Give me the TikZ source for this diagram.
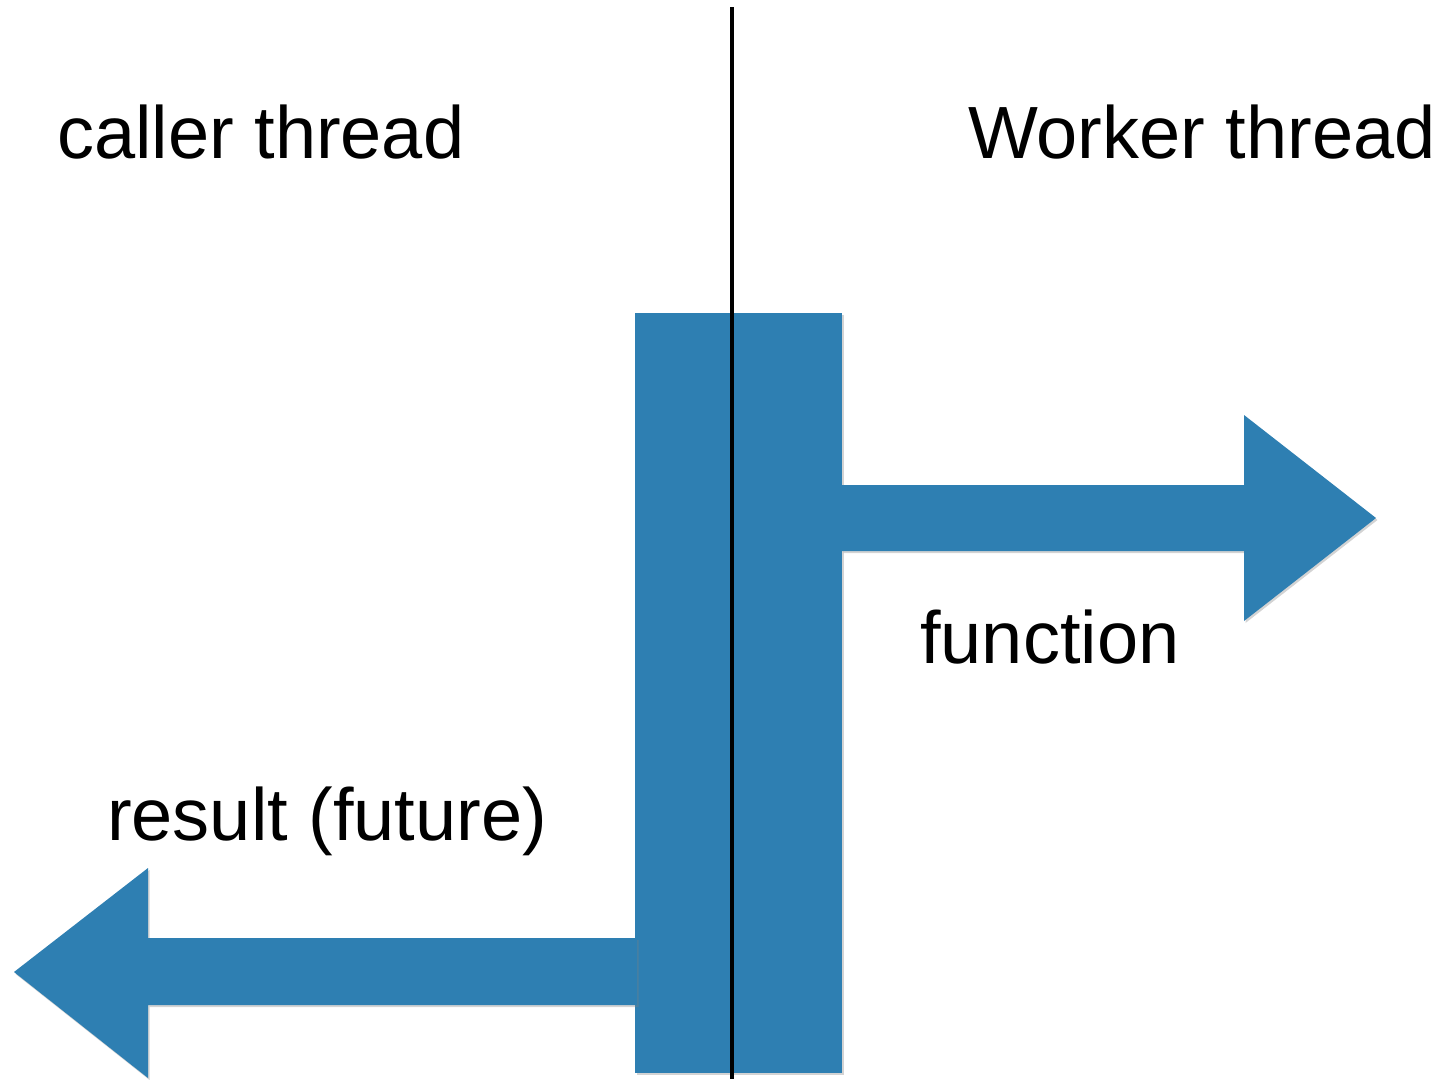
\documentclass[tikz,border=0pt]{standalone}
\usepackage{fontspec}
\setmainfont{Liberation Sans}
\usetikzlibrary{shadows}
\definecolor{paperblue}{RGB}{46,127,178}
\tikzset{
  blk/.style={fill=paperblue, draw=none, drop shadow={opacity=0.35, shadow xshift=1.5pt, shadow yshift=-2pt}},
  lbl/.style={anchor=base west, inner sep=0pt, font=\fontsize{74}{88}\selectfont},
}
\begin{document}
\begin{tikzpicture}[x=1pt,y=-1pt]
\useasboundingbox (0,0) rectangle (1435,1079);
% central bar
\node[blk, minimum width=207pt, minimum height=760pt, inner sep=0pt, anchor=north west] (bar) at (635,313) {};
% right arrow (function)
\coordinate (ra) at (842,485);
\fill[blk] (ra) -- (1244,485) -- (1244,415) -- (1376,518) -- (1244,621) -- (1244,551) -- (842,551) -- cycle;
% left arrow (result)
\coordinate (la) at (637,938);
\fill[blk] (la) -- (148,938) -- (148,868) -- (14,972) -- (148,1078) -- (148,1005) -- (637,1005) -- cycle;
% thread divider
\coordinate (top) at (732,7);
\coordinate (bot) at (732,1079);
\draw[line width=3.5pt] (top) -- (bot);
% labels
\node[lbl] (caller) at (57,158) {caller thread};
\node[lbl] (worker) at (968,158) {Worker thread};
\node[lbl] (func) at (920,663) {function};
\node[lbl] (res) at (107,840) {result (future)};
\end{tikzpicture}
\end{document}
